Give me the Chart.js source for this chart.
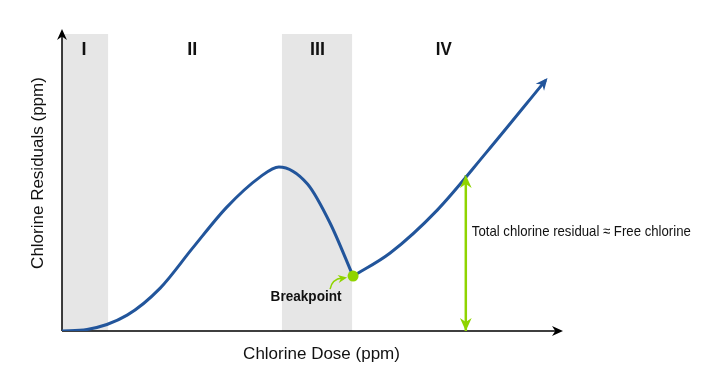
<!DOCTYPE html>
<html>
<head>
<meta charset="utf-8">
<script src="https://cdn.jsdelivr.net/npm/chart.js@4.4.1/dist/chart.umd.min.js"></script>
<style>
  html, body { margin: 0; padding: 0; background: #fff; }
  #wrap { width: 709px; height: 377px; }
</style>
</head>
<body>
<div id="wrap"><canvas id="chart"></canvas></div>
<script>
// chlorine dose (arbitrary units, 0-100) vs residual (0-100)
const dose     = [0, 5.0, 13.0, 19.6, 26.1, 32.9, 39.5, 43.3, 49.0, 53.5, 58.1, 65.5, 74.9, 84.8, 96.4]
const residual = [0, 0.5, 5.3, 14.3, 27.7, 41.3, 51.3, 54.7, 49.0, 36.0, 18.3, 26.0, 40.3, 59.7, 83.3]

const breakpoint = { x: 58.1, y: 18.3 }
const freeArrow = [{ x: 80.6, y: 0 }, { x: 80.6, y: 52.0 }]

// zones I - IV
const zoneLabels = ['I', 'II', 'III', 'IV']
const zoneCenters = [4.4, 26, 51, 76.2]
const shadedZones = [[0, 9.2], [43.9, 57.9]]

const BLUE = '#22559b'
const GREEN = '#8fd400'

const curve = dose.map((d, i) => ({ x: d, y: residual[i] }))
const minIdx = dose.indexOf(breakpoint.x)
const falling = curve.slice(0, minIdx + 1)
const rising = curve.slice(minIdx)

// stealth style arrowhead
function arrowHead(ctx, x, y, angle, size, color) {
    ctx.save()
    ctx.translate(x, y)
    ctx.rotate(angle)
    ctx.fillStyle = color
    ctx.beginPath()
    ctx.moveTo(0, 0)
    ctx.lineTo(-size, -size * 0.45)
    ctx.lineTo(-size * 0.7, 0)
    ctx.lineTo(-size, size * 0.45)
    ctx.closePath()
    ctx.fill()
    ctx.restore()
}

const bgPlugin = {
    id: 'bg',
    beforeDatasetsDraw(chart) {
        const { ctx, scales: { x, y } } = chart
        ctx.save()
        ctx.fillStyle = '#e6e6e6'
        shadedZones.forEach(z => {
            const x0 = x.getPixelForValue(z[0])
            const x1 = x.getPixelForValue(z[1])
            const top = y.getPixelForValue(99)
            ctx.fillRect(x0, top, x1 - x0, y.getPixelForValue(0) - top)
        })
        // axes
        const ox = x.getPixelForValue(0), oy = y.getPixelForValue(0)
        ctx.strokeStyle = '#000'
        ctx.lineWidth = 1.5
        ctx.beginPath()
        ctx.moveTo(ox, oy)
        ctx.lineTo(x.getPixelForValue(99), oy)
        ctx.moveTo(ox, oy)
        ctx.lineTo(ox, y.getPixelForValue(99.5))
        ctx.stroke()
        arrowHead(ctx, x.getPixelForValue(100), oy, 0, 11, '#000')
        arrowHead(ctx, ox, y.getPixelForValue(100.7), -Math.PI / 2, 11, '#000')
        ctx.restore()
    },
    afterDatasetsDraw(chart) {
        const { ctx, scales: { x, y } } = chart
        ctx.save()
        // arrow at the end of the curve
        const n = curve.length
        const px1 = x.getPixelForValue(curve[n - 1].x), py1 = y.getPixelForValue(curve[n - 1].y)
        const px0 = x.getPixelForValue(curve[n - 2].x), py0 = y.getPixelForValue(curve[n - 2].y)
        const ang = Math.atan2(py1 - py0, px1 - px0)
        arrowHead(ctx, px1 + 4 * Math.cos(ang), py1 + 4 * Math.sin(ang), ang, 12, BLUE)

        // double arrow heads
        const ax = x.getPixelForValue(freeArrow[0].x)
        arrowHead(ctx, ax, y.getPixelForValue(freeArrow[0].y), Math.PI / 2, 13, GREEN)
        arrowHead(ctx, ax, y.getPixelForValue(freeArrow[1].y), -Math.PI / 2, 13, GREEN)

        // small arrow to breakpoint
        const bx = x.getPixelForValue(breakpoint.x), by = y.getPixelForValue(breakpoint.y)
        ctx.strokeStyle = GREEN
        ctx.lineWidth = 1.5
        ctx.beginPath()
        ctx.moveTo(bx - 23, by + 13)
        ctx.quadraticCurveTo(bx - 21, by + 3, bx - 11, by + 2)
        ctx.stroke()
        arrowHead(ctx, bx - 6, by + 1.5, -0.15, 9, GREEN)

        ctx.fillStyle = '#111'
        ctx.textAlign = 'center'
        ctx.textBaseline = 'middle'
        ctx.font = 'bold 15px "Liberation Sans", Arial, sans-serif'
        ctx.fillText('Breakpoint', bx - 47, by + 21, 71)

        ctx.font = 'bold 18px "Liberation Sans", Arial, sans-serif'
        const maxW = [6, 11, 15, 16]
        zoneLabels.forEach((t, i) => {
            ctx.fillText(t, x.getPixelForValue(zoneCenters[i]), y.getPixelForValue(93.7), maxW[i])
        })

        ctx.textAlign = 'left'
        ctx.font = '15px "Liberation Sans", Arial, sans-serif'
        ctx.fillText('Total chlorine residual \u2248 Free chlorine', ax + 6, y.getPixelForValue(33), 219)

        // axis titles
        ctx.textAlign = 'center'
        ctx.font = '17px "Liberation Sans", Arial, sans-serif'
        ctx.fillText('Chlorine Dose (ppm)', x.getPixelForValue(51.8), 354)
        ctx.translate(38, 173)
        ctx.rotate(-Math.PI / 2)
        ctx.fillText('Chlorine Residuals (ppm)', 0, 0)
        ctx.restore()
    }
}

const curveStyle = {
    borderColor: BLUE,
    borderWidth: 3,
    pointRadius: 0,
    cubicInterpolationMode: 'monotone',
    borderCapStyle: 'round',
    borderJoinStyle: 'round',
    fill: false
}

new Chart(document.getElementById('chart'), {
    type: 'line',
    data: {
        datasets: [
            {
                data: [breakpoint],
                pointRadius: 5.5,
                pointBackgroundColor: GREEN,
                pointBorderWidth: 0,
                showLine: false
            },
            Object.assign({ data: falling }, curveStyle),
            Object.assign({ data: rising }, curveStyle),
            {
                data: freeArrow,
                borderColor: GREEN,
                borderWidth: 2.5,
                pointRadius: 0,
                fill: false
            }
        ]
    },
    options: {
        responsive: true,
        maintainAspectRatio: false,
        animation: false,
        layout: { padding: { left: 62, right: 146, top: 31, bottom: 46 } },
        plugins: {
            legend: { display: false },
            tooltip: { enabled: false }
        },
        scales: {
            x: { type: 'linear', min: 0, max: 100, display: false },
            y: { min: 0, max: 100, display: false }
        }
    },
    plugins: [bgPlugin]
});
</script>
</body>
</html>
